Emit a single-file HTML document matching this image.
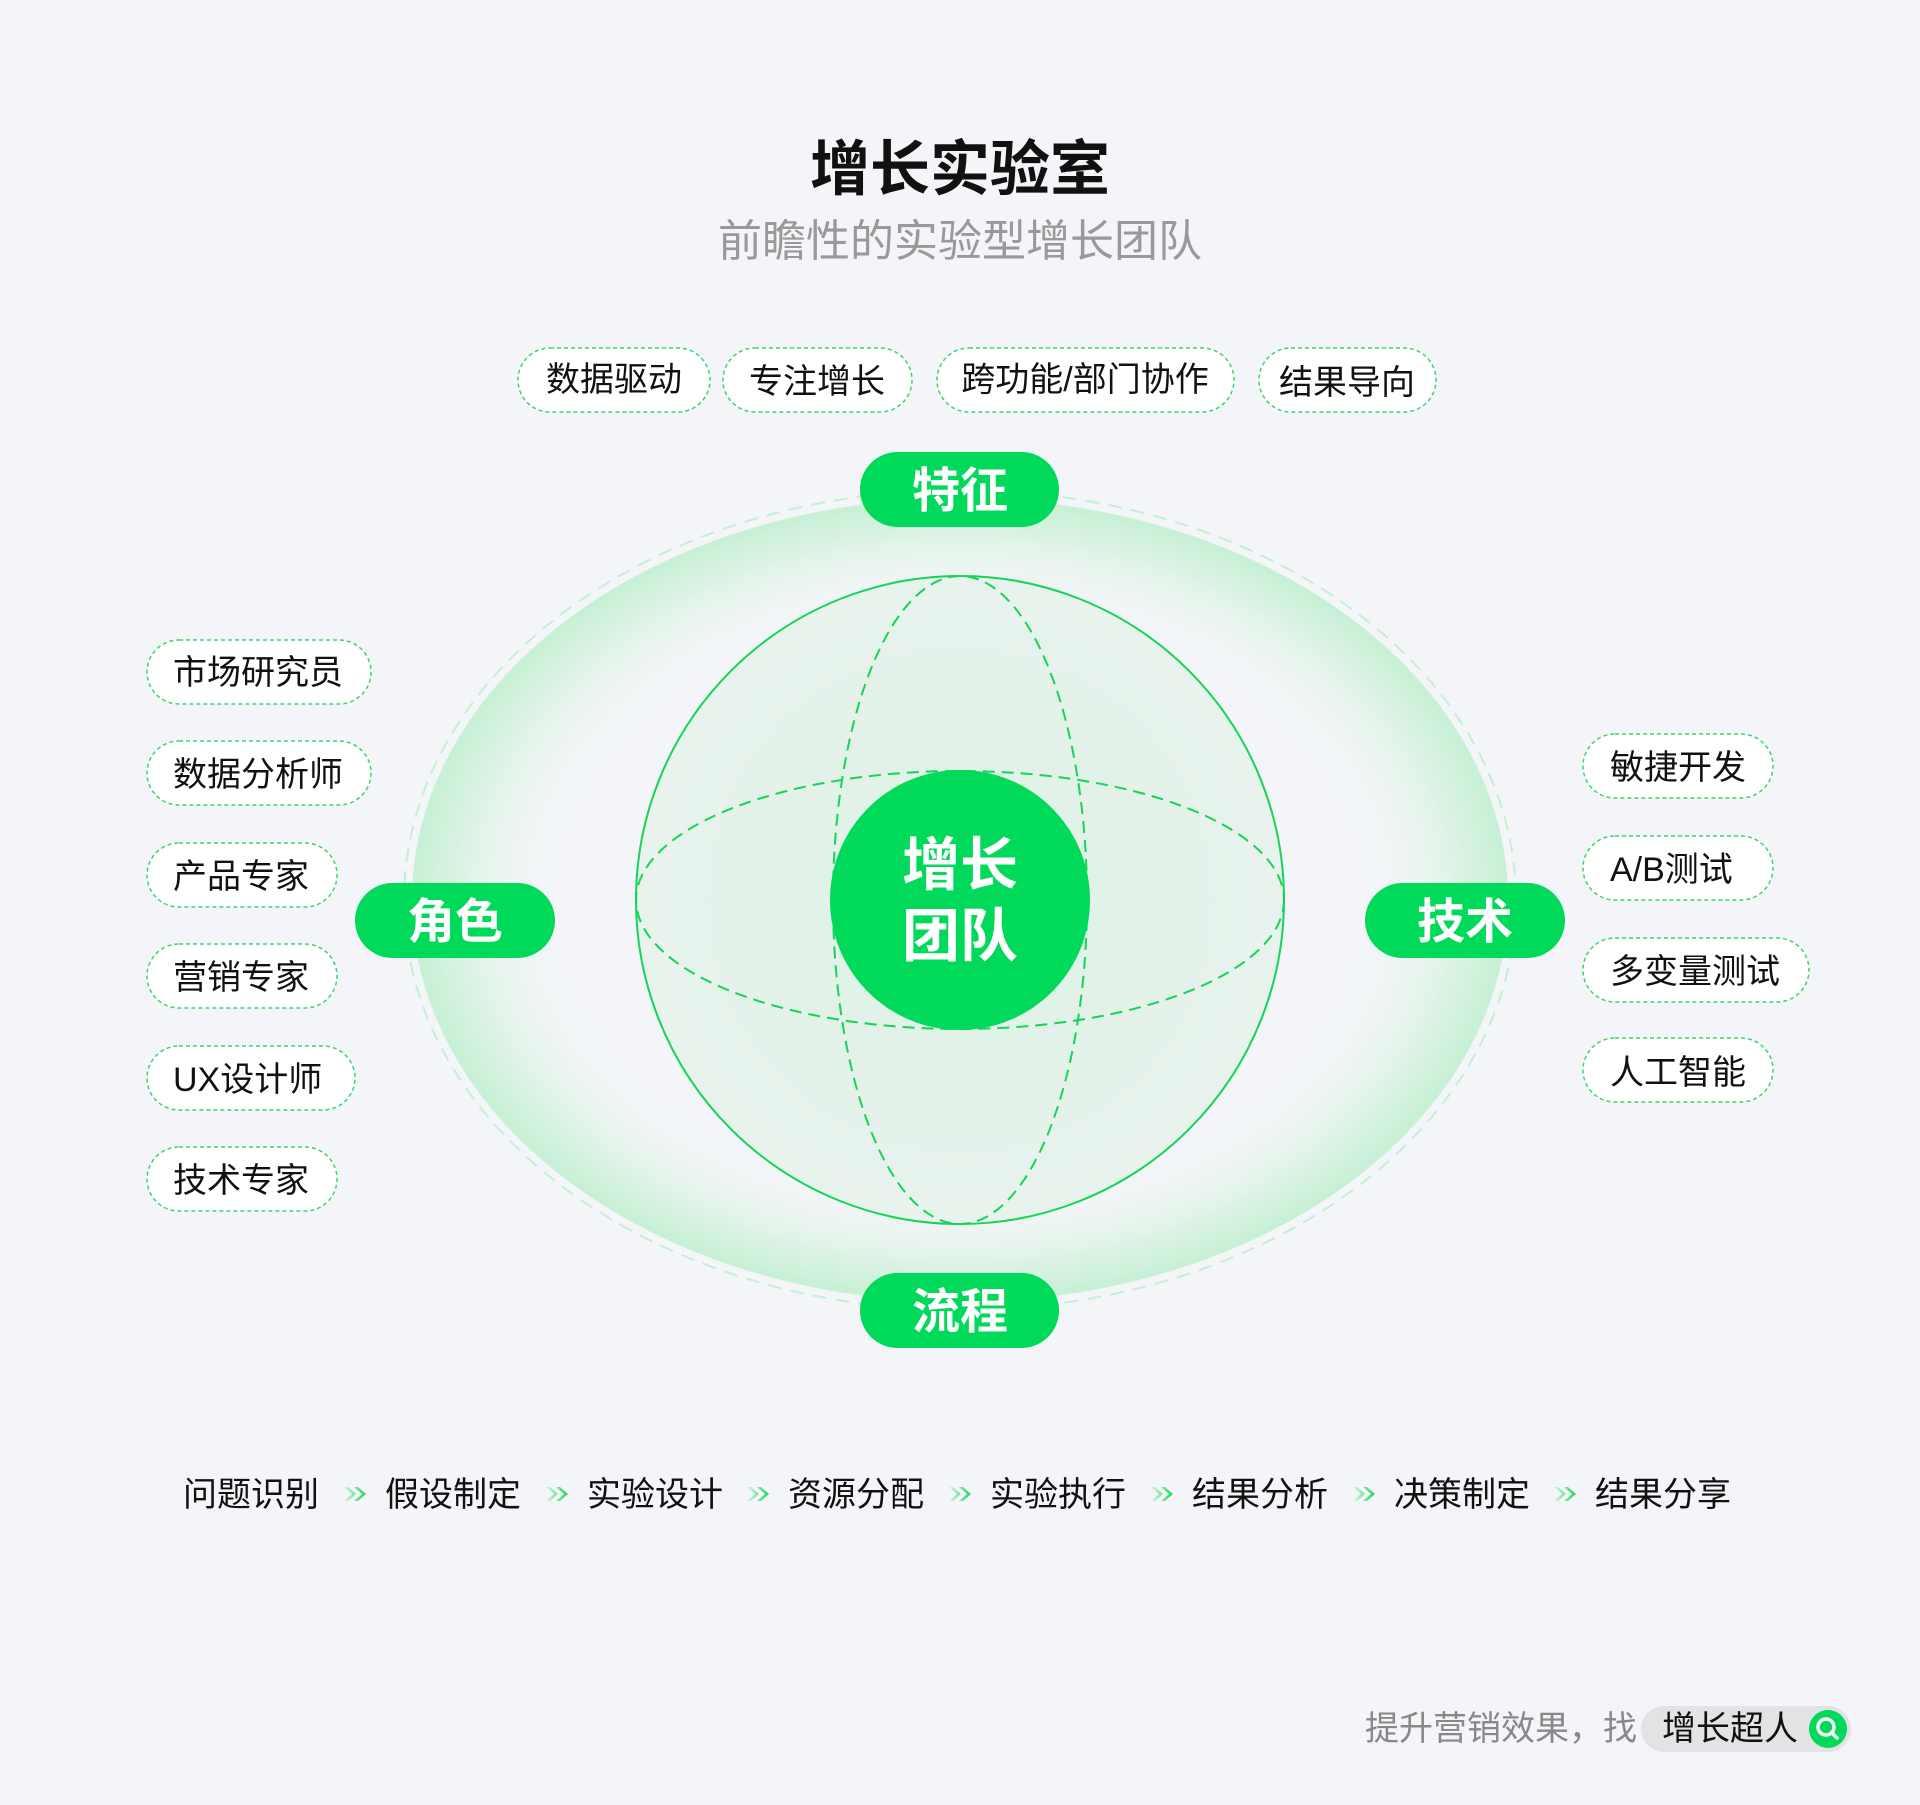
<!DOCTYPE html>
<html><head><meta charset="utf-8"><style>
body{margin:0;background:#f3f5f8;}
svg text{font-family:"Liberation Sans","Noto Sans CJK SC",sans-serif;}
</style></head><body>
<svg width="1920" height="1800" viewBox="0 0 1920 1800" xmlns="http://www.w3.org/2000/svg">
<defs>
<radialGradient id="glow" cx="50%" cy="50%" r="50%">
<stop offset="0.72" stop-color="#f3f5f8" stop-opacity="0"/>
<stop offset="0.88" stop-color="#e4f4ea"/>
<stop offset="1" stop-color="#c6f0d4"/>
</radialGradient>
<radialGradient id="inner" cx="50%" cy="50%" r="50%">
<stop offset="0" stop-color="#dcf1e4"/>
<stop offset="1" stop-color="#e8f3ed"/>
</radialGradient>
<linearGradient id="arr" x1="0" x2="1"><stop offset="0" stop-color="#d6f5e0"/><stop offset="1" stop-color="#22d462"/></linearGradient>
<g id="chev"><path d="M0 0 L8 7 L0 14 L4 14 L12 7 L4 0Z M10 0 L18 7 L10 14 L14 14 L22 7 L14 0Z" fill="url(#arr)"/></g>
</defs>
<rect width="1920" height="1800" fill="#f3f5f8"/>
<text x="960" y="190" font-size="60" font-weight="bold" text-anchor="middle" fill="#111">增长实验室</text>
<text x="960" y="256" font-size="44" text-anchor="middle" fill="#999">前瞻性的实验型增长团队</text>

<g font-size="34" fill="#111" stroke-width="1.5">
<rect x="518" y="348" width="192" height="64" rx="32" fill="#fff" stroke="#3cd56a" stroke-dasharray="4 3"/>
<text x="614" y="391" text-anchor="middle">数据驱动</text>
<rect x="723" y="348" width="189" height="64" rx="32" fill="#fff" stroke="#3cd56a" stroke-dasharray="4 3"/>
<text x="817" y="393" text-anchor="middle">专注增长</text>
<rect x="937" y="348" width="297" height="64" rx="32" fill="#fff" stroke="#3cd56a" stroke-dasharray="4 3"/>
<text x="1085" y="391" text-anchor="middle">跨功能/部门协作</text>
<rect x="1259" y="348" width="177" height="64" rx="32" fill="#fff" stroke="#3cd56a" stroke-dasharray="4 3"/>
<text x="1347" y="394" text-anchor="middle">结果导向</text>
</g>

<ellipse cx="960" cy="900" rx="548" ry="402" fill="url(#glow)"/>
<ellipse cx="960" cy="900" rx="556" ry="410" fill="none" stroke="#c4efd2" stroke-width="2" stroke-dasharray="14 9"/>
<circle cx="960" cy="900" r="324" fill="url(#inner)" stroke="#16d35a" stroke-width="2"/>
<ellipse cx="960" cy="900" rx="127" ry="324" fill="none" stroke="#16d35a" stroke-width="2" stroke-dasharray="12 7"/>
<ellipse cx="960" cy="900" rx="324" ry="129" fill="none" stroke="#16d35a" stroke-width="2" stroke-dasharray="12 7"/>
<circle cx="960" cy="900" r="130" fill="#00d95a"/>
<text x="960" y="885" font-size="58" font-weight="bold" fill="#fff" text-anchor="middle">增长</text>
<text x="960" y="956" font-size="58" font-weight="bold" fill="#fff" text-anchor="middle">团队</text>

<g font-size="48" font-weight="bold" fill="#fff" text-anchor="middle">
<rect x="860" y="452" width="199" height="75" rx="37.5" fill="#00d95a"/>
<text x="960" y="507">特征</text>
<rect x="860" y="1273" width="199" height="75" rx="37.5" fill="#00d95a"/>
<text x="960" y="1328">流程</text>
<rect x="355" y="883" width="200" height="75" rx="37.5" fill="#00d95a"/>
<text x="455" y="938">角色</text>
<rect x="1365" y="883" width="200" height="75" rx="37.5" fill="#00d95a"/>
<text x="1465" y="938">技术</text>
</g>

<g font-size="34" fill="#111" stroke-width="1.5">
<rect x="147" y="640" width="224" height="64" rx="32" fill="#fff" stroke="#3cd56a" stroke-dasharray="4 3"/>
<text x="173" y="684">市场研究员</text>
<rect x="147" y="741" width="224" height="64" rx="32" fill="#fff" stroke="#3cd56a" stroke-dasharray="4 3"/>
<text x="173" y="786">数据分析师</text>
<rect x="147" y="843" width="190" height="64" rx="32" fill="#fff" stroke="#3cd56a" stroke-dasharray="4 3"/>
<text x="173" y="888">产品专家</text>
<rect x="147" y="944" width="190" height="64" rx="32" fill="#fff" stroke="#3cd56a" stroke-dasharray="4 3"/>
<text x="173" y="989">营销专家</text>
<rect x="147" y="1046" width="208" height="64" rx="32" fill="#fff" stroke="#3cd56a" stroke-dasharray="4 3"/>
<text x="173" y="1091">UX设计师</text>
<rect x="147" y="1147" width="190" height="64" rx="32" fill="#fff" stroke="#3cd56a" stroke-dasharray="4 3"/>
<text x="173" y="1192">技术专家</text>

<rect x="1583" y="734" width="190" height="64" rx="32" fill="#fff" stroke="#3cd56a" stroke-dasharray="4 3"/>
<text x="1610" y="779">敏捷开发</text>
<rect x="1583" y="836" width="190" height="64" rx="32" fill="#fff" stroke="#3cd56a" stroke-dasharray="4 3"/>
<text x="1610" y="881">A/B测试</text>
<rect x="1583" y="938" width="226" height="64" rx="32" fill="#fff" stroke="#3cd56a" stroke-dasharray="4 3"/>
<text x="1610" y="983">多变量测试</text>
<rect x="1583" y="1038" width="190" height="64" rx="32" fill="#fff" stroke="#3cd56a" stroke-dasharray="4 3"/>
<text x="1610" y="1084">人工智能</text>
</g>

<g font-size="34" fill="#111">
<text x="183" y="1506">问题识别</text>
<text x="385" y="1506">假设制定</text>
<text x="587" y="1506">实验设计</text>
<text x="788" y="1506">资源分配</text>
<text x="990" y="1506">实验执行</text>
<text x="1192" y="1506">结果分析</text>
<text x="1394" y="1506">决策制定</text>
<text x="1595" y="1506">结果分享</text>
</g>
<use href="#chev" x="344" y="1487"/>
<use href="#chev" x="546" y="1487"/>
<use href="#chev" x="747" y="1487"/>
<use href="#chev" x="949" y="1487"/>
<use href="#chev" x="1151" y="1487"/>
<use href="#chev" x="1353" y="1487"/>
<use href="#chev" x="1554" y="1487"/>

<text x="1365" y="1740" font-size="34" fill="#888">提升营销效果，找</text>
<rect x="1641" y="1706" width="210" height="46" rx="23" fill="#e2e3e5"/>
<text x="1662" y="1740" font-size="34" fill="#111">增长超人</text>
<circle cx="1828" cy="1729" r="19" fill="#00d95a"/>
<circle cx="1826" cy="1727" r="8" fill="none" stroke="#fff" stroke-width="3.5"/>
<line x1="1832" y1="1733" x2="1837" y2="1738" stroke="#fff" stroke-width="3.5" stroke-linecap="round"/>
</svg>
</body></html>
